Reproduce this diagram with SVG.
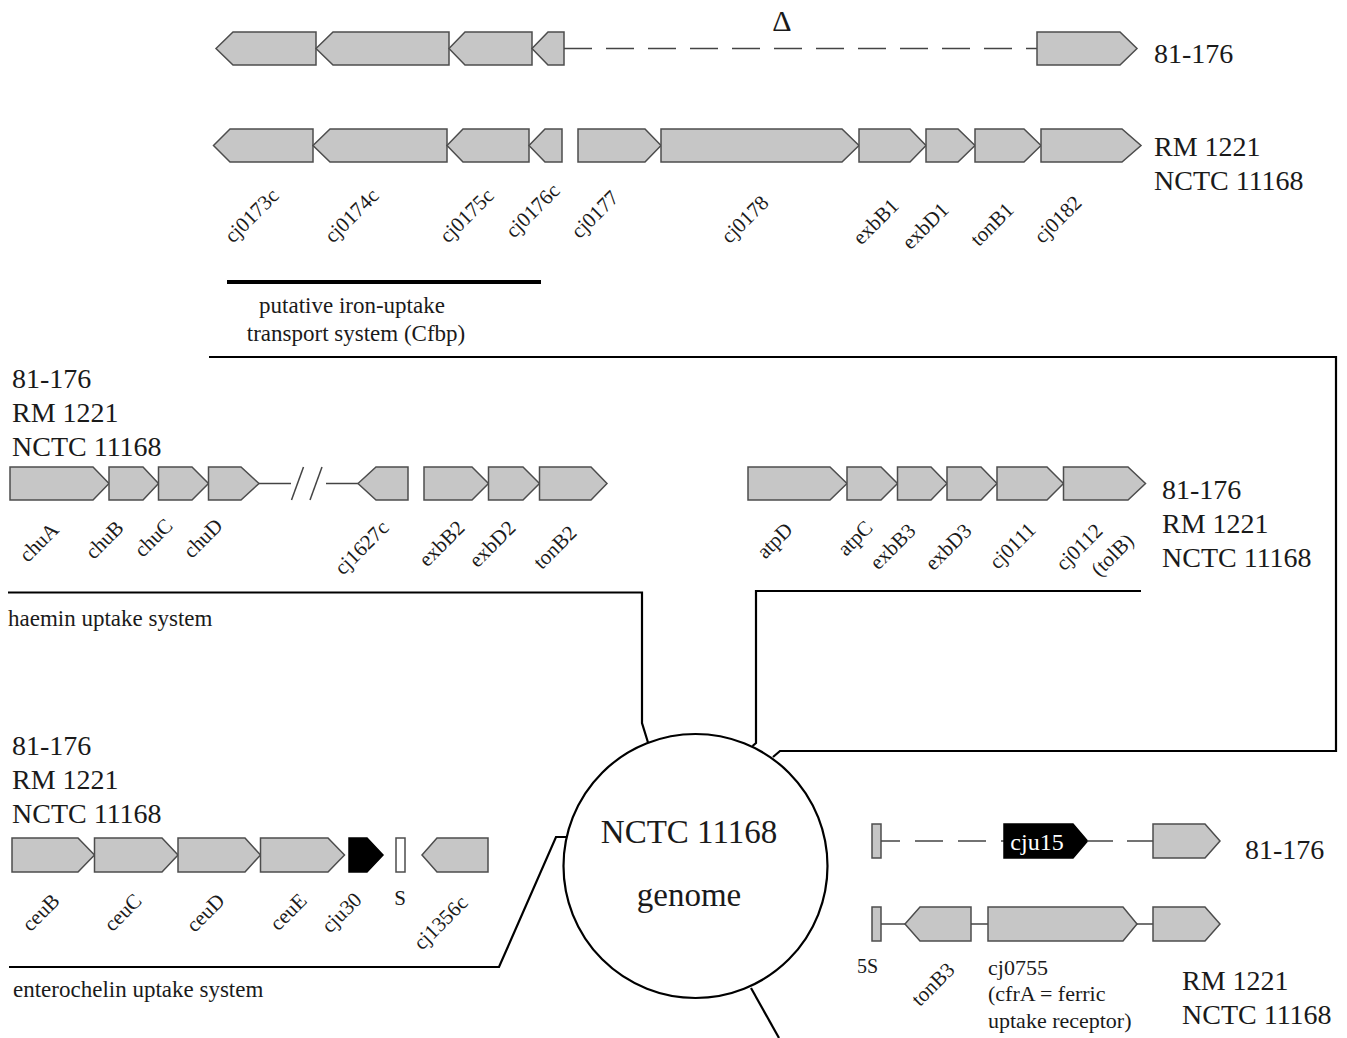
<svg xmlns="http://www.w3.org/2000/svg" width="1347" height="1038" viewBox="0 0 1347 1038">
<style>
.gene{fill:#c6c6c6;stroke:#4d4d4d;stroke-width:1.5;stroke-linejoin:miter}
.blk{fill:#000;stroke:#000;stroke-width:1.5}
.wht{fill:#fff;stroke:#4d4d4d;stroke-width:1.5}
.thin{stroke:#444;stroke-width:1.5;fill:none}
.dash{stroke:#444;stroke-width:1.5;fill:none;stroke-dasharray:28 14}
.conn{stroke:#000;stroke-width:2.2;fill:none;stroke-linejoin:miter}
text{font-family:"Liberation Serif","Times New Roman",serif;fill:#1a1a1a}
.strain{font-size:28px}
.gl{font-size:21px;text-anchor:end}
.cap{font-size:23px}
.desc{font-size:22px}
.big{font-size:33px;text-anchor:middle}
</style>

<!-- Top region: Cfbp locus, strain 81-176 -->
<g id="row1-81-176">
  <polygon class="gene" points="216,48.5 233,32 316,32 316,65 233,65"/>
  <polygon class="gene" points="316,48.5 333,32 449,32 449,65 333,65"/>
  <polygon class="gene" points="449,48.5 465,32 532,32 532,65 465,65"/>
  <polygon class="gene" points="532,48.5 548,32 564,32 564,65 548,65"/>
  <line class="dash" x1="564" y1="48.5" x2="1037" y2="48.5"/>
  <polygon class="gene" points="1037,32 1120,32 1137,48.5 1120,65 1037,65"/>
  <text x="782" y="31" font-size="30" text-anchor="middle">Δ</text>
  <text class="strain" x="1154" y="63">81-176</text>
</g>

<!-- Top region: RM1221 / NCTC 11168 -->
<g id="row1-rm1221">
  <g id="cj0173c"><polygon class="gene" points="213.5,145.5 230,129 313,129 313,162 230,162"/><text class="gl" transform="translate(280,197) rotate(-45)">cj0173c</text></g>
  <g id="cj0174c"><polygon class="gene" points="313,145.5 330,129 447,129 447,162 330,162"/><text class="gl" transform="translate(380,197) rotate(-45)">cj0174c</text></g>
  <g id="cj0175c"><polygon class="gene" points="447,145.5 463,129 529,129 529,162 463,162"/><text class="gl" transform="translate(495,197) rotate(-45)">cj0175c</text></g>
  <g id="cj0176c"><polygon class="gene" points="529,145.5 545,129 562,129 562,162 545,162"/><text class="gl" transform="translate(561,192) rotate(-45)">cj0176c</text></g>
  <g id="cj0177"><polygon class="gene" points="578,129 645,129 661,145.5 645,162 578,162"/><text class="gl" transform="translate(620,199) rotate(-45)">cj0177</text></g>
  <g id="cj0178"><polygon class="gene" points="661,129 842,129 859,145.5 842,162 661,162"/><text class="gl" transform="translate(770,204) rotate(-45)">cj0178</text></g>
  <g id="exbB1"><polygon class="gene" points="859,129 910,129 926,145.5 910,162 859,162"/><text class="gl" transform="translate(900,207) rotate(-45)">exbB1</text></g>
  <g id="exbD1"><polygon class="gene" points="926,129 958,129 975,145.5 958,162 926,162"/><text class="gl" transform="translate(950,211) rotate(-45)">exbD1</text></g>
  <g id="tonB1"><polygon class="gene" points="975,129 1024,129 1041,145.5 1024,162 975,162"/><text class="gl" transform="translate(1015,211) rotate(-45)">tonB1</text></g>
  <g id="cj0182"><polygon class="gene" points="1041,129 1122,129 1141,145.5 1122,162 1041,162"/><text class="gl" transform="translate(1083,204) rotate(-45)">cj0182</text></g>
  <text class="strain" x="1154" y="156">RM 1221</text>
  <text class="strain" x="1154" y="190">NCTC 11168</text>
</g>

<g id="cfbp-label">
  <line x1="227" y1="282" x2="541" y2="282" stroke="#000" stroke-width="4"/>
  <text class="cap" x="352" y="313" text-anchor="middle">putative iron-uptake</text>
  <text class="cap" x="356" y="341" text-anchor="middle">transport system (Cfbp)</text>
</g>

<!-- Haemin uptake -->
<g id="haemin">
  <text class="strain" x="12" y="388">81-176</text>
  <text class="strain" x="12" y="422">RM 1221</text>
  <text class="strain" x="12" y="456">NCTC 11168</text>
  <g id="chuA"><polygon class="gene" points="10,467 93,467 109,483.5 93,500 10,500"/><text class="gl" transform="translate(60,531) rotate(-45)">chuA</text></g>
  <g id="chuB"><polygon class="gene" points="109,467 143,467 158.5,483.5 143,500 109,500"/><text class="gl" transform="translate(125,529) rotate(-45)">chuB</text></g>
  <g id="chuC"><polygon class="gene" points="158.5,467 192,467 208.5,483.5 192,500 158.5,500"/><text class="gl" transform="translate(174,527) rotate(-45)">chuC</text></g>
  <g id="chuD"><polygon class="gene" points="208.5,467 241,467 259,483.5 241,500 208.5,500"/><text class="gl" transform="translate(224,527) rotate(-45)">chuD</text></g>
  <line class="thin" x1="259" y1="483.5" x2="291" y2="483.5"/>
  <line class="thin" x1="291.5" y1="500" x2="303.5" y2="467"/>
  <line class="thin" x1="310" y1="500" x2="322" y2="467"/>
  <line class="thin" x1="326" y1="483.5" x2="358" y2="483.5"/>
  <g id="cj1627c"><polygon class="gene" points="358,483.5 376,467 408,467 408,500 376,500"/><text class="gl" transform="translate(390,529) rotate(-45)">cj1627c</text></g>
  <g id="exbB2"><polygon class="gene" points="424,467 472,467 488.5,483.5 472,500 424,500"/><text class="gl" transform="translate(466,529) rotate(-45)">exbB2</text></g>
  <g id="exbD2"><polygon class="gene" points="488.5,467 523,467 539.5,483.5 523,500 488.5,500"/><text class="gl" transform="translate(517,529) rotate(-45)">exbD2</text></g>
  <g id="tonB2"><polygon class="gene" points="539.5,467 591,467 607,483.5 591,500 539.5,500"/><text class="gl" transform="translate(578,534) rotate(-45)">tonB2</text></g>
  <text class="cap" x="8" y="626">haemin uptake system</text>
</g>

<!-- atp / exbB3 locus -->
<g id="atp-locus">
  <g id="atpD"><polygon class="gene" points="748,467 830,467 847,483.5 830,500 748,500"/><text class="gl" transform="translate(794,531) rotate(-45)">atpD</text></g>
  <g id="atpC"><polygon class="gene" points="847,467 881,467 897.5,483.5 881,500 847,500"/><text class="gl" transform="translate(874,529) rotate(-45)">atpC</text></g>
  <g id="exbB3"><polygon class="gene" points="897.5,467 931,467 947,483.5 931,500 897.5,500"/><text class="gl" transform="translate(917,532) rotate(-45)">exbB3</text></g>
  <g id="exbD3"><polygon class="gene" points="947,467 981,467 997,483.5 981,500 947,500"/><text class="gl" transform="translate(973,532) rotate(-45)">exbD3</text></g>
  <g id="cj0111"><polygon class="gene" points="997,467 1047,467 1063.5,483.5 1047,500 997,500"/><text class="gl" transform="translate(1037,531) rotate(-45)">cj0111</text></g>
  <g id="cj0112"><polygon class="gene" points="1063.5,467 1128,467 1145.5,483.5 1128,500 1063.5,500"/><text class="gl" transform="translate(1104,532) rotate(-45)">cj0112</text><text class="gl" transform="translate(1135,542) rotate(-45)">(tolB)</text></g>
  <text class="strain" x="1162" y="499">81-176</text>
  <text class="strain" x="1162" y="533">RM 1221</text>
  <text class="strain" x="1162" y="567">NCTC 11168</text>
</g>

<!-- Enterochelin uptake -->
<g id="enterochelin">
  <text class="strain" x="12" y="755">81-176</text>
  <text class="strain" x="12" y="789">RM 1221</text>
  <text class="strain" x="12" y="823">NCTC 11168</text>
  <g id="ceuB"><polygon class="gene" points="12,838 78,838 94.5,855 78,872 12,872"/><text class="gl" transform="translate(61,902) rotate(-45)">ceuB</text></g>
  <g id="ceuC"><polygon class="gene" points="94.5,838 162,838 178,855 162,872 94.5,872"/><text class="gl" transform="translate(143,902) rotate(-45)">ceuC</text></g>
  <g id="ceuD"><polygon class="gene" points="178,838 245,838 260.5,855 245,872 178,872"/><text class="gl" transform="translate(226,902) rotate(-45)">ceuD</text></g>
  <g id="ceuE"><polygon class="gene" points="260.5,838 328,838 344.5,855 328,872 260.5,872"/><text class="gl" transform="translate(308,902) rotate(-45)">ceuE</text></g>
  <g id="cju30"><polygon class="blk" points="349,838 367,838 383,855 367,872 349,872"/><text class="gl" transform="translate(363,901) rotate(-45)">cju30</text></g>
  <g id="S"><rect class="wht" x="396" y="838" width="9" height="34"/><text x="400" y="905" font-size="21" text-anchor="middle">S</text></g>
  <g id="cj1356c"><polygon class="gene" points="422,855 437,838 488,838 488,872 437,872"/><text class="gl" transform="translate(469,904) rotate(-45)">cj1356c</text></g>
  <text class="cap" x="13" y="997">enterochelin uptake system</text>
</g>

<!-- cfrA locus -->
<g id="cfrA-81-176">
  <rect class="gene" x="872" y="824" width="9" height="34"/>
  <line class="thin" x1="881" y1="841" x2="900" y2="841"/>
  <line class="dash" x1="915" y1="841" x2="1004" y2="841" style="stroke-dasharray:28 15"/>
  <g id="cju15"><polygon class="blk" points="1004,824 1073,824 1087.5,841 1073,858 1004,858"/><text x="1037" y="850" font-size="24" text-anchor="middle" style="fill:#fff">cju15</text></g>
  <line class="thin" x1="1087" y1="841" x2="1113" y2="841"/>
  <line class="thin" x1="1127" y1="841" x2="1153" y2="841"/>
  <polygon class="gene" points="1153,824 1205,824 1220,841 1205,858 1153,858"/>
  <text class="strain" x="1245" y="859">81-176</text>
</g>
<g id="cfrA-rm1221">
  <g id="5S"><rect class="gene" x="872" y="907" width="9" height="34"/><text x="857" y="973" font-size="20">5S</text></g>
  <line class="thin" x1="881" y1="924" x2="905" y2="924"/>
  <g id="tonB3"><polygon class="gene" points="905,924 920,907 971,907 971,941 920,941"/><text class="gl" transform="translate(956,971) rotate(-45)">tonB3</text></g>
  <line class="thin" x1="971" y1="924" x2="988" y2="924"/>
  <g id="cj0755"><polygon class="gene" points="988,907 1123,907 1137,924 1123,941 988,941"/>
    <text class="desc" x="988" y="975">cj0755</text>
    <text class="desc" x="988" y="1001">(cfrA = ferric</text>
    <text class="desc" x="988" y="1028">uptake receptor)</text></g>
  <line class="thin" x1="1137" y1="924" x2="1153" y2="924"/>
  <polygon class="gene" points="1153,907 1205,907 1220,924 1205,941 1153,941"/>
  <text class="strain" x="1182" y="990">RM 1221</text>
  <text class="strain" x="1182" y="1024">NCTC 11168</text>
</g>

<!-- genome -->
<g id="genome">
  <circle cx="695.5" cy="866" r="132" fill="#fff" stroke="#000" stroke-width="2.2"/>
  <text class="big" x="689" y="843">NCTC 11168</text>
  <text class="big" x="689" y="906">genome</text>
</g>

<!-- connectors -->
<g id="connectors">
  <polyline class="conn" points="209,357 1336,357 1336,751 780,751 773,757"/>
  <polyline class="conn" points="8,592.5 642,592.5 642,723 648,742.5"/>
  <polyline class="conn" points="1141,591 756,591 756,743 752.5,746"/>
  <polyline class="conn" points="9,967 499,967 556,837 566,837"/>
  <line class="conn" x1="751" y1="988" x2="779" y2="1038"/>
</g>
</svg>
